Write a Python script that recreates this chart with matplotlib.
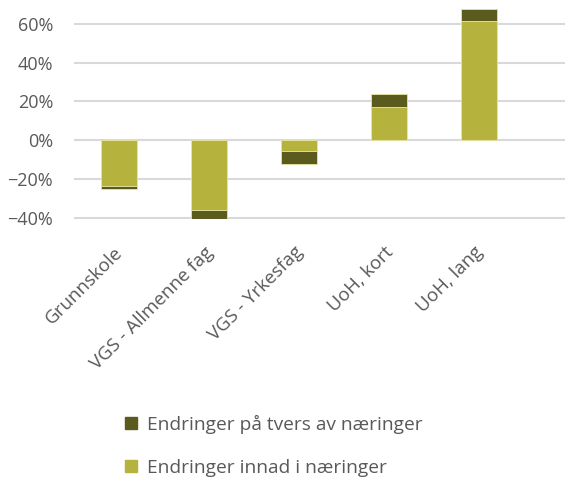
import matplotlib.pyplot as plt
from matplotlib.ticker import PercentFormatter
from matplotlib.patches import Patch
from matplotlib.transforms import ScaledTranslation

plt.rcParams['font.family'] = ['Open Sans', 'DejaVu Sans']

categories = ["Grunnskole", "VGS - Allmenne fag", "VGS - Yrkesfag", "UoH, kort", "UoH, lang"]
innad = [-23.4, -36.1, -5.6, 16.9, 61.7]      # endringer innad i næringer
tvers = [-1.7, -4.4, -6.4, 6.8, 6.0]          # endringer på tvers av næringer
yticks = [-40, -20, 0, 20, 40, 60]

dark = "#5b5b1d"
light = "#b5b33d"
grey = "#595959"

fig = plt.figure(figsize=(5.65, 4.8), dpi=100)
ax = fig.add_axes([0.131, 0.544, 0.869, 0.456])

x = list(range(len(categories)))
ax.bar(x, innad, width=0.4, color=light, edgecolor="#e8e6a0", linewidth=0.6, zorder=3)
ax.bar(x, tvers, width=0.4, bottom=innad, color=dark, edgecolor="#e8e6a0", linewidth=0.6, zorder=3)

ax.set_xlim(-0.5, 4.96)
ax.set_ylim(-40.5, 72.3)
ax.set_yticks(yticks)
ax.yaxis.set_major_formatter(PercentFormatter(decimals=0))
ax.grid(axis="y", color="#d9d9d9", linewidth=1.5, zorder=0)
for s in ax.spines.values():
    s.set_visible(False)
ax.tick_params(length=0, labelsize=13, labelcolor=grey)
ax.tick_params(axis="y", pad=15)
ax.tick_params(axis="x", labelsize=13.5, pad=17.5)
ax.set_xticks(x)
ax.set_xticklabels(categories, rotation=45, ha="right", rotation_mode="anchor")
# nudge the rotated labels a touch to the left
shift = ScaledTranslation(-5 / 100, 0, fig.dpi_scale_trans)
for lab in ax.get_xticklabels():
    lab.set_transform(lab.get_transform() + shift)

handles = [Patch(color=dark, label="Endringer på tvers av næringer"),
           Patch(color=light, label="Endringer innad i næringer")]
leg = fig.legend(handles=handles, loc="upper left", bbox_to_anchor=(0.222, 0.136),
                 frameon=False, fontsize=13.8, labelspacing=1.3, handlelength=0.6,
                 handleheight=0.6, handletextpad=0.5, borderaxespad=0, borderpad=0)
for t in leg.get_texts():
    t.set_color(grey)

fig.savefig("out.png", dpi=100)
